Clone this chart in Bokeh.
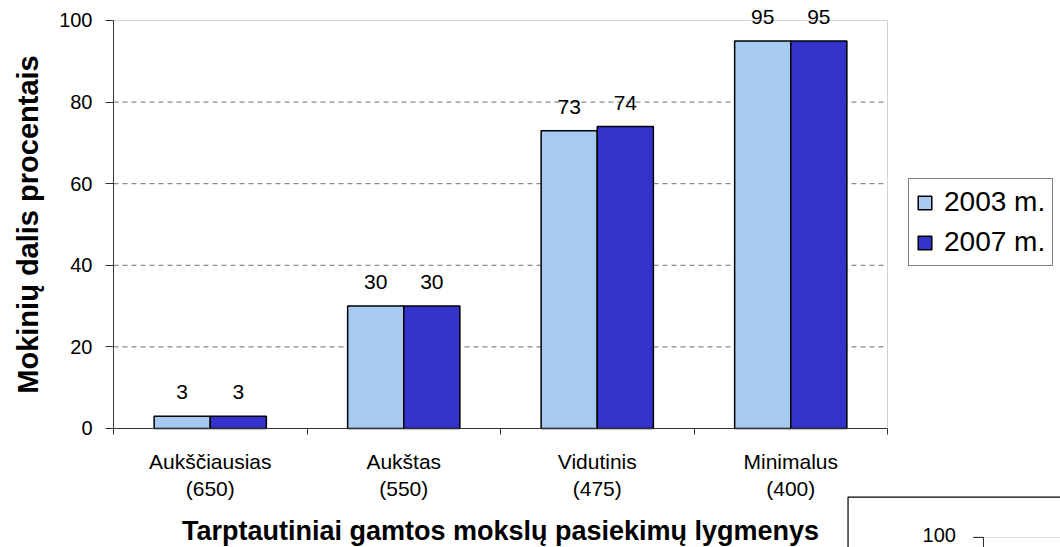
from bokeh.plotting import figure
from bokeh.models import (Range1d, FixedTicker, Legend, LegendItem, ColumnDataSource,
                          LabelSet, BoxAnnotation, Label)
from bokeh.core.properties import value
from bokeh.embed import file_html
from bokeh.resources import INLINE

# ---- data ----
categories = ["Aukščiausias", "Aukštas", "Vidutinis", "Minimalus"]
scores = ["(650)", "(550)", "(475)", "(400)"]
series_names = ["2003 m.", "2007 m."]
values_2003 = [3, 30, 73, 95]
values_2007 = [3, 30, 74, 95]
y_ticks = [0, 20, 40, 60, 80, 100]
x_title = "Tarptautiniai gamtos mokslų pasiekimų lygmenys"
y_title = "Mokinių dalis procentais"

FONT = "Liberation Sans"
COLORS = ["#A6CAF0", "#3333CC"]
BAR_W = 0.29

n = len(categories)
y_max = y_ticks[-1]
centers = [i + 0.5 for i in range(n)]
src = ColumnDataSource(dict(
    x03=[c - BAR_W / 2 for c in centers],
    x07=[c + BAR_W / 2 for c in centers],
    v03=values_2003, v07=values_2007,
    l03=[str(v) for v in values_2003], l07=[str(v) for v in values_2007],
))

# the frame covers the whole canvas; the plot area (0..n, 0..100) sits inside it
p = figure(width=1060, height=547, output_backend="svg", toolbar_location=None,
           x_range=Range1d(-0.584, n + 0.894), y_range=Range1d(-29.17, y_max + 4.9),
           min_border_left=0, min_border_right=0, min_border_top=0,
           min_border_bottom=0, background_fill_color="white")
p.outline_line_color = None
p.xgrid.visible = False
p.ygrid.visible = False

# plot-area border (light grey)
p.add_layout(BoxAnnotation(left=0, right=n, bottom=0, top=y_max, fill_alpha=0,
                           line_color="#d4d4d4", line_alpha=1, line_width=1,
                           level="underlay"))

# dashed grid lines
grid_y = y_ticks[1:-1]
p.segment(x0=[0] * len(grid_y), x1=[n] * len(grid_y), y0=grid_y, y1=grid_y,
          line_color="#6e6e6e", line_dash="5 4", line_width=1)

# bars
r1 = p.vbar(x="x03", top="v03", width=BAR_W, source=src, fill_color=COLORS[0],
            line_color="black", line_width=1.5)
r2 = p.vbar(x="x07", top="v07", width=BAR_W, source=src, fill_color=COLORS[1],
            line_color="black", line_width=1.5)

# value labels
for xc, yc, tc in (("x03", "v03", "l03"), ("x07", "v07", "l07")):
    p.add_layout(LabelSet(x=xc, y=yc, text=tc, source=src, y_offset=17,
                          text_align="center", text_baseline="alphabetic",
                          text_font=value(FONT), text_font_size="21px",
                          text_color="black"))

# x axis
xa = p.xaxis[0]
xa.fixed_location = 0
xa.bounds = (0, n)
xa.ticker = FixedTicker(ticks=centers, minor_ticks=list(range(n + 1)))
xa.major_label_overrides = {c: f"{cat}\n{s}" for c, cat, s in zip(centers, categories, scores)}
xa.major_tick_out = 0
xa.major_tick_in = 0
xa.minor_tick_out = 6
xa.minor_tick_in = 0
xa.minor_tick_line_color = "#333333"
xa.axis_line_color = "#333333"
xa.major_label_text_font = FONT
xa.major_label_text_font_size = "21px"
xa.major_label_text_color = "black"
xa.major_label_text_line_height = 1.17
xa.major_label_standoff = 16
xa.axis_label = x_title
xa.axis_label_text_font = FONT
xa.axis_label_text_font_style = "bold"
xa.axis_label_text_font_size = "27px"
xa.axis_label_text_color = "black"
xa.axis_label_standoff = 13

# y axis
ya = p.yaxis[0]
ya.fixed_location = 0
ya.bounds = (0, y_max)
ya.ticker = FixedTicker(ticks=y_ticks)
ya.major_tick_out = 8
ya.major_tick_in = 0
ya.minor_tick_out = 0
ya.minor_tick_in = 0
ya.major_tick_line_color = "#333333"
ya.axis_line_color = "#333333"
ya.major_label_text_font = FONT
ya.major_label_text_font_size = "20px"
ya.major_label_text_color = "black"
ya.major_label_standoff = 13
ya.axis_label = y_title
ya.axis_label_text_font = FONT
ya.axis_label_text_font_style = "bold"
ya.axis_label_text_font_size = "29px"
ya.axis_label_text_color = "black"
ya.axis_label_standoff = 12

# legend
legend = Legend(items=[LegendItem(label=series_names[0], renderers=[r1]),
                       LegendItem(label=series_names[1], renderers=[r2])],
                location=(908, 281), orientation="vertical",
                border_line_color="black", border_line_width=1,
                background_fill_color="white", background_fill_alpha=1,
                label_text_font=FONT, label_text_font_size="28px",
                label_text_color="black", glyph_width=17, glyph_height=17,
                label_standoff=11, padding=7, spacing=8, label_height=24,
                margin=0)
p.add_layout(legend)

# fragment of a neighbouring chart (bottom right corner of the picture)
p.add_layout(BoxAnnotation(left=3.796, right=6, top=-16.8, bottom=-40,
                           fill_alpha=0, line_color="black", line_alpha=1,
                           line_width=1.2))
p.add_layout(BoxAnnotation(left=4.496, right=6, top=-26.7, bottom=-40,
                           fill_alpha=0, line_color="#d9d9d9", line_alpha=1,
                           line_width=1))
p.add_layout(BoxAnnotation(left=4.496, right=4.496, top=-26.7, bottom=-40,
                           fill_alpha=0, line_color="#333333", line_alpha=1,
                           line_width=1))
p.add_layout(BoxAnnotation(left=4.444, right=4.496, top=-26.7, bottom=-26.7,
                           fill_alpha=0, line_color="#333333", line_alpha=1,
                           line_width=1))
p.add_layout(Label(x=4.181, y=-24.3, text="100", text_font=FONT,
                   text_font_size="20px", text_color="black",
                   text_baseline="top"))

open("out.html", "w").write(file_html(p, INLINE))
